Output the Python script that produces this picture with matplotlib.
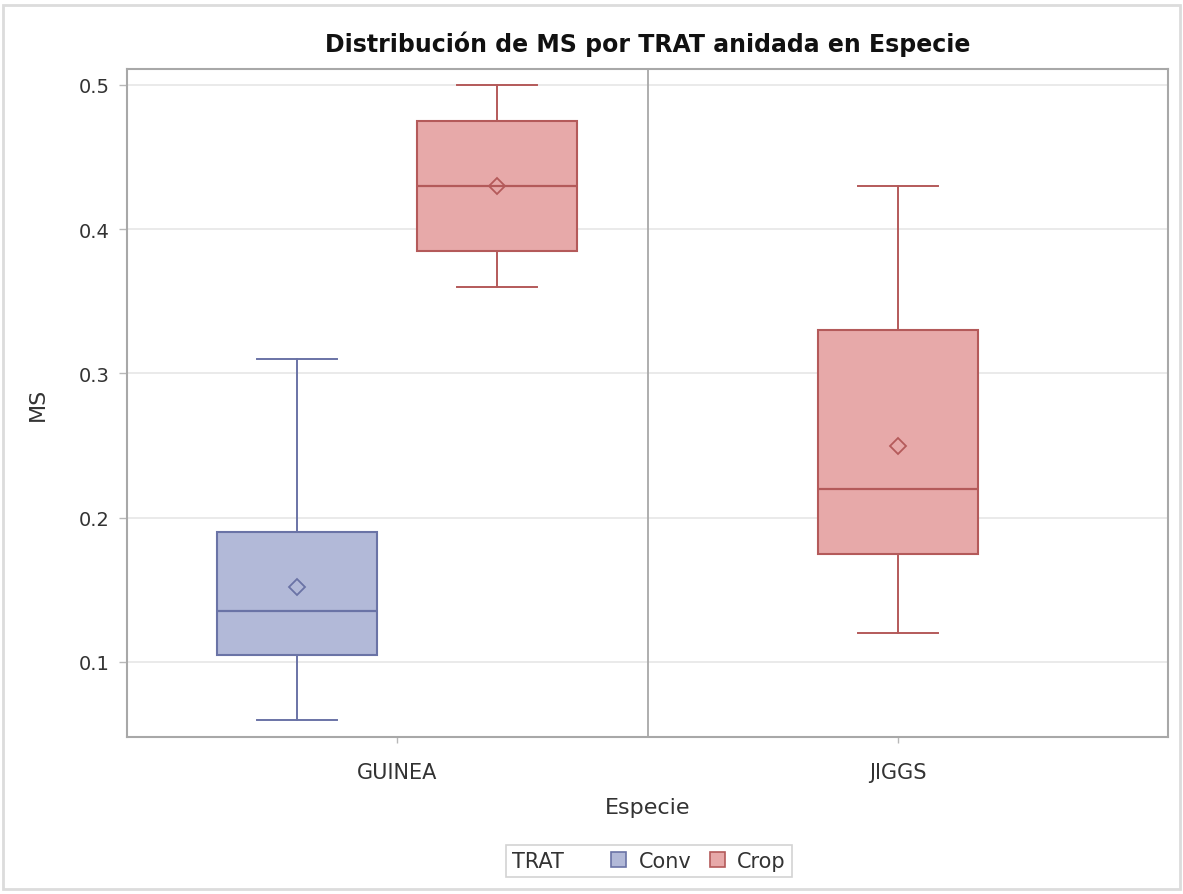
import matplotlib
matplotlib.use("Agg")
import matplotlib.pyplot as plt
from matplotlib.patches import Patch, Rectangle
from matplotlib.offsetbox import HPacker

plt.rcParams['font.family'] = ['DejaVu Sans']

# Species on the x axis, treatments nested within species
especies = ["GUINEA", "JIGGS"]
grupos_especie = ["GUINEA", "GUINEA", "JIGGS"]
grupos_trat = ["Conv", "Crop", "Crop"]
desplaz = [-0.2, 0.2, 0.0]

# Box statistics of MS for each (species, treatment) group
ms_min = [0.06, 0.36, 0.12]
ms_q1 = [0.105, 0.385, 0.175]
ms_med = [0.135, 0.43, 0.22]
ms_q3 = [0.19, 0.475, 0.33]
ms_max = [0.31, 0.50, 0.43]
ms_media = [0.152, 0.43, 0.25]

colores_relleno = {"Conv": "#b2b9d8", "Crop": "#e7a9a9"}
colores_borde = {"Conv": "#6a73a6", "Crop": "#b45a5a"}

fig = plt.figure(figsize=(11.83, 8.95), dpi=100)
ax = fig.add_axes([0.1074, 0.1754, 0.8799, 0.7464])

for i in range(len(grupos_trat)):
    trat = grupos_trat[i]
    pos = especies.index(grupos_especie[i]) + desplaz[i]
    stats = [dict(whislo=ms_min[i], q1=ms_q1[i], med=ms_med[i], q3=ms_q3[i],
                  whishi=ms_max[i], mean=ms_media[i], fliers=[])]
    edge = colores_borde[trat]
    ax.bxp(stats, positions=[pos], widths=0.32, capwidths=0.16,
           patch_artist=True, showmeans=True, showfliers=False,
           boxprops=dict(facecolor=colores_relleno[trat], edgecolor=edge, linewidth=1.5),
           whiskerprops=dict(color=edge, linewidth=1.4),
           capprops=dict(color=edge, linewidth=1.4),
           medianprops=dict(color=edge, linewidth=1.6),
           meanprops=dict(marker='D', markerfacecolor='none', markeredgecolor=edge,
                          markersize=8.5, markeredgewidth=1.3),
           zorder=3)

# separator between the species panels
ax.axvline(0.5, color="#a8a8a8", linewidth=1.3, zorder=2)

ax.set_xlim(-0.539, 1.539)
ax.set_ylim(0.048, 0.511)
ax.set_xticks(range(len(especies)))
ax.set_xticklabels(especies)
ax.set_yticks([0.1, 0.2, 0.3, 0.4, 0.5])
ax.set_yticklabels(["0.1", "0.2", "0.3", "0.4", "0.5"])
ax.yaxis.grid(True, color="#e6e6e6", linewidth=1.2, zorder=0)
ax.set_axisbelow(True)
ax.tick_params(axis='both', colors="#b8b8b8", labelcolor="#333333", width=1)
ax.tick_params(axis='x', length=4, pad=14, labelsize=15)
ax.tick_params(axis='y', length=6, pad=6.5, labelsize=14)
for s in ax.spines.values():
    s.set_color("#a8a8a8")
    s.set_linewidth(1.5)

ax.set_xlabel("Especie", fontsize=16, color="#333333")
ax.xaxis.set_label_coords(0.5, -0.1048)
ax.xaxis.label.set_va("center")
ax.set_ylabel("MS", fontsize=16, color="#333333")
ax.yaxis.set_label_coords(-0.0855, 0.5)
ax.yaxis.label.set_va("center")
ax.set_title("Distribución de MS por TRAT anidada en Especie", fontsize=17,
             fontweight='bold', color="#111111", y=1.0389, va="center", pad=0)

handles = [Patch(facecolor=colores_relleno[t], edgecolor=colores_borde[t], linewidth=1.2)
           for t in ["Conv", "Crop"]]
leg = fig.legend(handles, ["Conv", "Crop"], title="TRAT", ncol=2,
                 loc="center", bbox_to_anchor=(649 / 1183, 1 - 862 / 895),
                 fontsize=15, title_fontsize=15, frameon=True, fancybox=False,
                 edgecolor="#c8c8c8", handlelength=0.72, handleheight=0.72,
                 handletextpad=0.58, columnspacing=0.9, borderpad=0.3,
                 labelcolor="#333333")
leg.get_title().set_color("#333333")
# put the legend title on the same row as the entries
vp = leg._legend_box
title_box, items_box = vp.get_children()
newbox = HPacker(pad=vp.pad, sep=34, align="center",
                 children=[title_box, items_box])
newbox.set_figure(fig)
newbox.axes = None
leg._legend_box = newbox
leg._legend_box.set_offset(leg._findoffset)
leg.get_frame().set_linewidth(1.2)

# outer border of the graph area
fig.patches.append(Rectangle((3 / 1183, 1 - 890 / 895), 1177 / 1183, 884 / 895,
                             transform=fig.transFigure, fill=False,
                             edgecolor="#dcdcdc", linewidth=2))

fig.savefig("out.png", dpi=100)
